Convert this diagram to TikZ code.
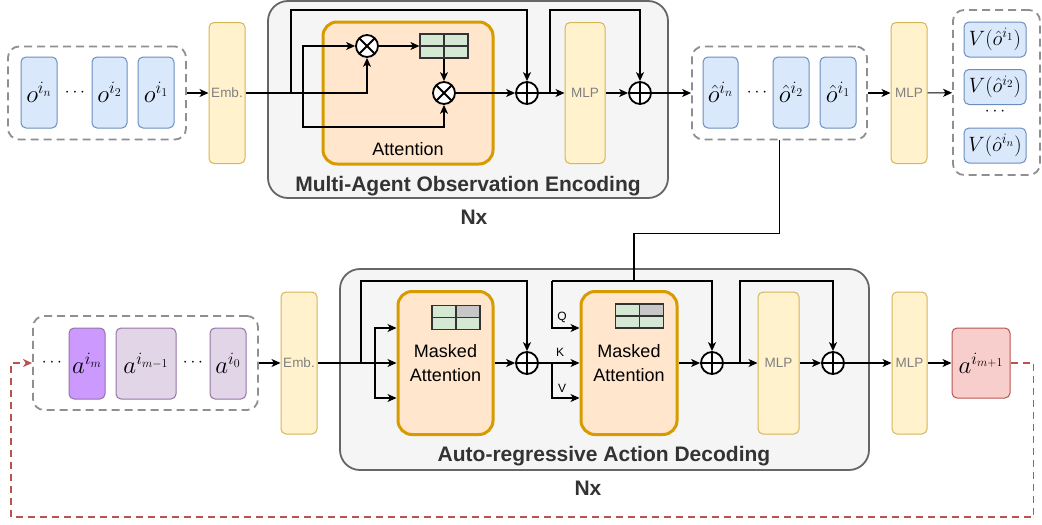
\documentclass[tikz,border=0pt]{standalone}
\usepackage{fontspec}
\setsansfont{Liberation Sans}
\usetikzlibrary{arrows.meta,calc,positioning}

\definecolor{blueF}{HTML}{DAE8FC}
\definecolor{blueS}{HTML}{6C8EBF}
\definecolor{yelF}{HTML}{FFF2CC}
\definecolor{yelS}{HTML}{D6B656}
\definecolor{orgF}{HTML}{FFE6CC}
\definecolor{orgS}{HTML}{D79B00}
\definecolor{grnF}{HTML}{D5E8D4}
\definecolor{grayF}{HTML}{F5F5F5}
\definecolor{grayS}{HTML}{666666}
\definecolor{dashC}{HTML}{8F8F8F}
\definecolor{purF}{HTML}{E1D5E7}
\definecolor{purS}{HTML}{9673A6}
\definecolor{purB}{HTML}{CC99FF}
\definecolor{redF}{HTML}{F8CECC}
\definecolor{redS}{HTML}{B85450}
\definecolor{titleC}{HTML}{333333}

\begin{document}
\begin{tikzpicture}[x=1pt,y=-1pt,
    every node/.append style={font=\sffamily,inner sep=0pt},
    sz/.style 2 args={minimum width=#1pt,minimum height=#2pt},
    wire/.style={line width=1.1pt},
    link/.style={wire,-{Stealth[length=9pt,width=8pt,inset=2.5pt]}},
    fb/.style={draw=redS,line width=1.6pt,dash pattern=on 7pt off 5pt,
        -{Stealth[length=9pt,width=8pt,inset=2.5pt]}},
    block/.style={draw=grayS,fill=grayF,line width=1.8pt,rounded corners=20pt},
    group/.style={draw=dashC,line width=1.8pt,dash pattern=on 8pt off 5pt,rounded corners=11pt},
    tok/.style={draw=blueS,fill=blueF,line width=1pt,rounded corners=5pt,font=\fontsize{25}{30}\selectfont},
    vtok/.style={tok,font=\fontsize{21.5}{25}\selectfont},
    atok/.style={tok,draw=purS,fill=purF},
    rtok/.style={tok,draw=redS,fill=redF},
    dots/.style={font=\fontsize{18}{20}\selectfont},
    layer/.style={draw=yelS,fill=yelF,line width=1pt,rounded corners=5pt,text=gray,
        font=\sffamily\fontsize{13.5}{16}\selectfont},
    attn/.style={draw=orgS,fill=orgF,line width=3pt,rounded corners=14pt,align=center,
        font=\sffamily\fontsize{18}{24}\selectfont},
    txt/.style={font=\sffamily\fontsize{18}{22}\selectfont},
    title/.style={text=titleC,font=\sffamily\bfseries\fontsize{21}{25}\selectfont},
    qkv/.style={font=\sffamily\fontsize{12}{14}\selectfont},
    opbase/.style={circle,draw,line width=1.8pt,fill=white,minimum size=22pt},
    mulop/.style={opbase,path picture={
        \draw[line width=1.8pt] (path picture bounding box.north west) -- (path picture bounding box.south east)
            (path picture bounding box.north east) -- (path picture bounding box.south west);}},
    addop/.style={opbase,path picture={
        \draw[line width=1.8pt] (path picture bounding box.north) -- (path picture bounding box.south)
            (path picture bounding box.west) -- (path picture bounding box.east);}},
    grid/.style={draw=black!80,fill=grnF,line width=1.2pt,sz={48}{24},path picture={
        \draw[line width=1.2pt] (path picture bounding box.north) -- (path picture bounding box.south)
            (path picture bounding box.west) -- (path picture bounding box.east);}},
    maskgrid/.style={draw=black!80,fill=grnF,line width=1.2pt,sz={48}{24},path picture={
        \fill[black!22] (path picture bounding box.center) rectangle (path picture bounding box.north east);
        \draw[line width=1.2pt] (path picture bounding box.north) -- (path picture bounding box.south)
            (path picture bounding box.west) -- (path picture bounding box.east);}}
]
\useasboundingbox (0,0) rectangle (1042,525);

% frames
\node[block,sz={400}{197}] (enc) at (468,99.5) {};
\node[block,sz={529}{201}] (dec) at (604.5,369.5) {};
\node[group,sz={178}{93}] (ogrp) at (97,93) {};
\node[group,sz={175}{93}] (ohat) at (779.5,93) {};
\node[group,sz={87}{165}] (vgrp) at (996.5,92.5) {};
\node[group,sz={225}{94}] (agrp) at (145.5,363) {};

% observations
\node[tok,sz={36}{71}] (on) at (39,92.5) {$o^{i_n}$};
\node[dots] (odots) at (75,93) {$\cdots$};
\node[tok,sz={35}{71}] (o2) at (109.5,92.5) {$o^{i_2}$};
\node[tok,sz={36}{71}] (o1) at (156,92.5) {$o^{i_1}$};

% encoder
\node[layer,sz={36}{141}] (emb1) at (227,93) {Emb.};
\node[attn,sz={170}{142}] (attn) at (408,93) {};
\node[mulop] (mul1) at (367,46) {};
\node[grid] (tab1) at (444,46) {};
\node[mulop] (mul2) at (444,93) {};
\node[txt,anchor=base] (attnl) at (408,155) {Attention};
\node[addop] (add1) at (527,93) {};
\node[layer,sz={40}{141}] (mlp1) at (585,93) {MLP};
\node[addop] (add2) at (640,93) {};
\node[title,anchor=base] (enct) at (468,191) {Multi-Agent Observation Encoding};
\node[title,anchor=base] (encn) at (474,224) {Nx};

% encoded observations and values
\node[tok,sz={35}{71}] (hn) at (720.5,92.5) {$\hat{o}^{i_n}$};
\node[dots] (hdots) at (757,93) {$\cdots$};
\node[tok,sz={36}{71}] (h2) at (791,92.5) {$\hat{o}^{i_2}$};
\node[tok,sz={36}{71}] (h1) at (838,92.5) {$\hat{o}^{i_1}$};
\node[layer,sz={36}{141}] (mlp2) at (909,93) {MLP};
\node[vtok,sz={62}{35}] (v1) at (995,39.5) {$V(\hat{o}^{i_1})$};
\node[vtok,sz={62}{35}] (v2) at (995,87) {$V(\hat{o}^{i_2})$};
\node[dots] (vdots) at (995,112) {$\cdots$};
\node[vtok,sz={62}{35}] (v3) at (995,145.5) {$V(\hat{o}^{i_n})$};

% actions
\node[dots] (adots1) at (52,363) {$\cdots$};
\node[atok,fill=purB,sz={36}{71}] (am) at (87,363.5) {$a^{i_m}$};
\node[atok,sz={60}{71}] (am1) at (146,363.5) {$a^{i_{m-1}}$};
\node[dots] (adots2) at (193,363) {$\cdots$};
\node[atok,sz={36}{71}] (a0) at (228,363.5) {$a^{i_0}$};

% decoder
\node[layer,sz={36}{142}] (emb2) at (299,363) {Emb.};
\node[attn,sz={95}{143}] (ma1) at (445.5,363) {Masked\\Attention};
\node[maskgrid] (tab2) at (456,317.5) {};
\node[addop] (add3) at (527,363) {};
\node[attn,sz={96}{143}] (ma2) at (629,363) {Masked\\Attention};
\node[maskgrid] (tab3) at (639.5,316) {};
\node[addop] (add4) at (712,363) {};
\node[layer,sz={41}{142}] (mlp3) at (778.5,363) {MLP};
\node[addop] (add5) at (833,363) {};
\node[layer,sz={35}{142}] (mlp4) at (909.5,363) {MLP};
\node[rtok,sz={58}{70}] (anext) at (981,363) {$a^{i_{m+1}}$};
\node[qkv] (lq) at (562,317) {Q};
\node[qkv] (lk) at (560,352) {K};
\node[qkv] (lv) at (562,388) {V};
\node[title,anchor=base] (dect) at (604,461) {Auto-regressive Action Decoding};
\node[title,anchor=base] (decn) at (588,495) {Nx};

% encoder wiring
\coordinate (encTop) at (0,10);
\coordinate (encLow) at (0,127);
\coordinate (s1) at (291,93);
\coordinate (s2) at (303,93);
\coordinate (s3) at (550,93);
\draw[link] (ogrp) -- (emb1);
\draw[link] (emb1.east) -| (mul1.south);
\draw[link] (s1) -- (s1 |- encTop) -| (add1.north);
\draw[link] (s2) |- (mul1.west);
\draw[link] (s2) -- (s2 |- encLow) -| (mul2.south);
\draw[link] (mul1) -- (tab1);
\draw[link] (tab1) -- (mul2);
\draw[link] (mul2) -- (add1);
\draw[link] (add1) -- (mlp1);
\draw[link] (s3) -- (s3 |- encTop) -| (add2.north);
\draw[link] (mlp1) -- (add2);
\draw[link] (add2) -- (ohat);
\draw[link] (ohat) -- (mlp2);
\draw[link] (mlp2) -- (vgrp);

% decoder wiring
\coordinate (decTop) at (0,281);
\coordinate (q0) at (634,281);
\coordinate (q1) at (552,281);
\coordinate (d0) at (361,363);
\coordinate (d1) at (375,363);
\coordinate (d2) at (740,363);
\coordinate (k1) at (552,363);
\coordinate (lp) at (11,517);
\draw[wire] (ohat.south) -- ++(0,93) -| (q0);
\draw[link] (agrp) -- (emb2);
\draw[link] (emb2) -- (ma1);
\draw[link] (d0) -- (d0 |- decTop) -| (add3.north);
\draw[link] (d1) |- ($(ma1.west)+(0,-35)$);
\draw[link] (d1) |- ($(ma1.west)+(0,35)$);
\draw[link] (ma1) -- (add3);
\draw[link] (add3) -- (ma2);
\draw[link] (q1) -| (add4.north);
\draw[link] (q1) |- ($(ma2.west)+(0,-35)$);
\draw[link] (k1) |- ($(ma2.west)+(0,35)$);
\draw[link] (ma2) -- (add4);
\draw[link] (add4) -- (mlp3);
\draw[link] (d2) -- (d2 |- decTop) -| (add5.north);
\draw[link] (mlp3) -- (add5);
\draw[link] (add5) -- (mlp4);
\draw[link] (mlp4) -- (anext);
\draw[fb] (anext.east) -- ++(23,0) |- (lp) |- (agrp.west);
\end{tikzpicture}
\end{document}
